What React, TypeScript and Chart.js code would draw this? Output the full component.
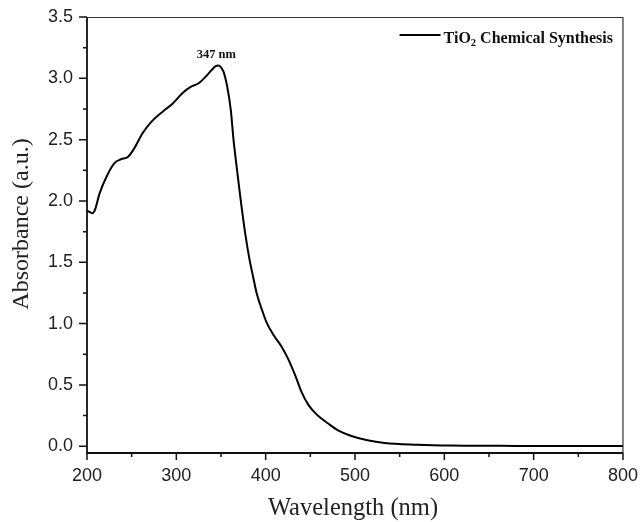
import React, { useEffect, useRef } from "react";
import { Chart, registerables } from "chart.js";

Chart.register(...registerables);

const wavelengths = [200, 203, 206, 209, 214, 222, 231, 238, 246, 253, 262, 272, 285, 296, 307, 316, 325, 335, 344, 347, 350, 353, 357, 361, 364, 368, 372, 377, 382, 386, 390, 396, 401, 409, 418, 425, 433, 440, 448, 457, 470, 481, 496, 514, 533, 570, 607, 680, 800];
const absorbance = [1.92, 1.91, 1.9, 1.93, 2.06, 2.2, 2.31, 2.34, 2.36, 2.43, 2.55, 2.645, 2.73, 2.795, 2.88, 2.93, 2.96, 3.03, 3.1, 3.105, 3.09, 3.05, 2.93, 2.74, 2.5, 2.25, 2.01, 1.74, 1.52, 1.38, 1.245, 1.11, 1.01, 0.905, 0.81, 0.715, 0.58, 0.445, 0.335, 0.26, 0.185, 0.13, 0.084, 0.049, 0.027, 0.013, 0.006, 0.003, 0.002];
const xTicks = [200, 300, 400, 500, 600, 700, 800];
const xMinorTicks = [250, 350, 450, 550, 650, 750];
const yTicks = [0, 0.5, 1.0, 1.5, 2.0, 2.5, 3.0, 3.5];
const yMinorTicks = [0.25, 0.75, 1.25, 1.75, 2.25, 2.75, 3.25];
const seriesLabel = "TiO\u2082 Chemical Synthesis";
const xTitle = "Wavelength (nm)";
const yTitle = "Absorbance (a.u.)";
const peakLabel = "347 nm";
const peakX = 347;
const peakY = 3.105;

const framePlugin = {
  id: "frame",
  afterDraw(chart: any) {
    const { ctx, chartArea } = chart;
    const xs = chart.scales.x;
    const ys = chart.scales.y;
    const { left, right, top, bottom } = chartArea;
    ctx.save();
    // top & right border
    ctx.strokeStyle = "#333";
    ctx.lineWidth = 1.2;
    ctx.beginPath();
    ctx.moveTo(left, top + 0.5);
    ctx.lineTo(right, top + 0.5);
    ctx.lineTo(right, bottom);
    ctx.stroke();
    // axes
    ctx.strokeStyle = "#111";
    ctx.lineWidth = 1.8;
    ctx.beginPath();
    ctx.moveTo(left, top);
    ctx.lineTo(left, bottom);
    ctx.lineTo(right, bottom);
    ctx.stroke();
    // ticks
    ctx.lineWidth = 1.5;
    ctx.beginPath();
    yTicks.forEach((v) => {
      const p = ys.getPixelForValue(v);
      ctx.moveTo(left, p);
      ctx.lineTo(left - 8, p);
    });
    yMinorTicks.forEach((v) => {
      const p = ys.getPixelForValue(v);
      ctx.moveTo(left, p);
      ctx.lineTo(left - 4, p);
    });
    xTicks.forEach((v) => {
      const p = xs.getPixelForValue(v);
      ctx.moveTo(p, bottom);
      ctx.lineTo(p, bottom + 7);
    });
    xMinorTicks.forEach((v) => {
      const p = xs.getPixelForValue(v);
      ctx.moveTo(p, bottom);
      ctx.lineTo(p, bottom + 4);
    });
    ctx.stroke();

    // axis titles
    ctx.fillStyle = "#222";
    ctx.textAlign = "center";
    ctx.textBaseline = "middle";
    ctx.font = "24.5px 'Liberation Serif', serif";
    ctx.fillText(xTitle, (left + right) / 2 - 2, bottom + 56);
    ctx.save();
    ctx.translate(22, (top + bottom) / 2 - 11);
    ctx.rotate(-Math.PI / 2);
    ctx.font = "24px 'Liberation Serif', serif";
    ctx.fillText(yTitle, 0, 0);
    ctx.restore();

    // peak annotation
    ctx.fillStyle = "#111";
    ctx.font = "bold 12.5px 'Liberation Serif', serif";
    ctx.textAlign = "center";
    ctx.textBaseline = "alphabetic";
    ctx.fillText(peakLabel, xs.getPixelForValue(peakX) - 2, ys.getPixelForValue(peakY) - 7);

    // legend
    const legRight = right - 10;
    const baseY = top + 26;
    const mainFont = "bold 16px 'Liberation Serif', serif";
    const subFont = "bold 10.5px 'Liberation Serif', serif";
    ctx.textAlign = "left";
    const parts = [
      { t: "TiO", f: mainFont, dy: 0 },
      { t: "2", f: subFont, dy: 3 },
      { t: " Chemical Synthesis", f: mainFont, dy: 0 },
    ];
    let total = 0;
    parts.forEach((p) => {
      ctx.font = p.f;
      total += ctx.measureText(p.t).width;
    });
    let x = legRight - total;
    ctx.strokeStyle = "#000";
    ctx.lineWidth = 2;
    ctx.beginPath();
    ctx.moveTo(x - 44, baseY - 8);
    ctx.lineTo(x - 3, baseY - 8);
    ctx.stroke();
    parts.forEach((p) => {
      ctx.font = p.f;
      ctx.fillText(p.t, x, baseY + p.dy);
      x += ctx.measureText(p.t).width;
    });
    ctx.restore();
  },
};

export default function App() {
  const ref = useRef<HTMLCanvasElement | null>(null);
  useEffect(() => {
    if (!ref.current) return;
    const chart = new Chart(ref.current, {
      type: "line",
      data: {
        datasets: [
          {
            label: seriesLabel,
            data: wavelengths.map((w, i) => ({ x: w, y: absorbance[i] })),
            borderColor: "#000",
            borderWidth: 2,
            pointRadius: 0,
            cubicInterpolationMode: "monotone",
            fill: false,
          },
        ],
      },
      options: {
        responsive: false,
        animation: false,
        layout: { padding: { top: 17, right: 16, left: 0, bottom: 0 } },
        plugins: { legend: { display: false }, tooltip: { enabled: false } },
        scales: {
          x: {
            type: "linear",
            min: 200,
            max: 800,
            afterBuildTicks: (s: any) => {
              s.ticks = xTicks.map((v) => ({ value: v }));
            },
            afterFit: (s: any) => {
              s.height = 69;
            },
            grid: { display: true, drawOnChartArea: false, drawTicks: true, tickLength: 7, tickColor: "transparent" },
            border: { display: false },
            ticks: {
              color: "#222",
              font: { family: "'Liberation Sans', Arial, sans-serif", size: 18 },
              padding: 5,
              maxRotation: 0,
              autoSkip: false,
              callback: (v: any) => String(v),
            },
          },
          y: {
            type: "linear",
            min: -0.055,
            max: 3.5,
            afterBuildTicks: (s: any) => {
              s.ticks = yTicks.map((v) => ({ value: v }));
            },
            afterFit: (s: any) => {
              s.width = 87;
            },
            grid: { display: true, drawOnChartArea: false, drawTicks: true, tickLength: 8, tickColor: "transparent" },
            border: { display: false },
            ticks: {
              color: "#222",
              font: { family: "'Liberation Sans', Arial, sans-serif", size: 18 },
              padding: 6,
              autoSkip: false,
              callback: (v: any) => Number(v).toFixed(1),
            },
          },
        },
      },
      plugins: [framePlugin],
    } as any);
    return () => chart.destroy();
  }, []);
  return (
    <div style={{ position: "fixed", left: 0, top: 0, width: 643, height: 522, background: "#fff" }}>
      <canvas ref={ref} width={643} height={522} style={{ display: "block" }} />
    </div>
  );
}
